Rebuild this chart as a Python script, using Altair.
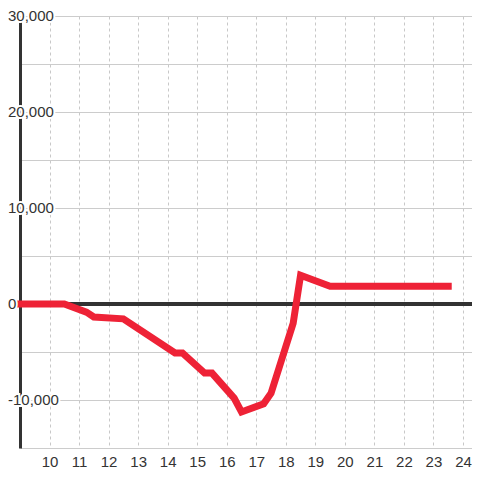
import altair as alt
import pandas as pd

# Data
hours = [9, 10.5, 11.25, 11.5, 12.5, 14.25, 14.5, 15.25, 15.5, 16.25, 16.5,
         17.25, 17.5, 18.25, 18.5, 19.5, 23.5]
values = [0, 0, -850, -1350, -1550, -5100, -5100, -7200, -7200, -9800, -11250,
          -10400, -9300, -2000, 3000, 1850, 1850]

x_ticks = list(range(10, 25))
y_grid = [-15000, -10000, -5000, 0, 5000, 10000, 15000, 20000, 25000, 30000]
y_label_values = [-10000, 0, 10000, 20000, 30000]
y_label_texts = ["-10,000", "0", "10,000", "20,000", "30,000"]

df = pd.DataFrame({"hour": hours, "value": values})
labels = pd.DataFrame({"value": y_label_values, "label": y_label_texts})

FONT = "Liberation Sans"
RED = "#EE2236"
DARK = "#333333"

x_scale = alt.Scale(domain=[9, 24.305], nice=False, zero=False)
y_scale = alt.Scale(domain=[-15000, 30000], nice=False, zero=False)

x_axis = alt.Axis(values=x_ticks, grid=True, gridDash=[3, 3], gridColor="#c8c8c8",
                  domain=False, ticks=False, labelFontSize=15, labelColor=DARK,
                  labelFont=FONT, labelPadding=6, title=None, zindex=0)
y_axis = alt.Axis(values=y_grid, grid=True, gridColor="#cccccc", labels=False,
                  ticks=False, domain=True, domainColor=DARK, domainWidth=3,
                  title=None, zindex=0)

base = alt.Chart(df).encode(
    x=alt.X("hour:Q", scale=x_scale, axis=x_axis),
    y=alt.Y("value:Q", scale=y_scale, axis=y_axis),
)

zero_rule = alt.Chart(df).mark_rule(color=DARK, strokeWidth=3).encode(
    y=alt.datum(0)
)

line = base.mark_line(color=RED, strokeWidth=7, strokeCap="square")

lab = alt.Chart(labels)

halo = lab.mark_text(align="left", baseline="middle", fontSize=15, font=FONT,
                     stroke="white", strokeWidth=4, fill="white").encode(
    x=alt.value(-12), y=alt.Y("value:Q", scale=y_scale), text="label:N")
txt = lab.mark_text(align="left", baseline="middle", fontSize=15, font=FONT,
                    color=DARK).encode(
    x=alt.value(-12), y=alt.Y("value:Q", scale=y_scale), text="label:N")

chart = alt.layer(zero_rule, line, halo, txt).properties(
    width=452, height=432,
    padding={"left": 12, "top": 8, "right": 0, "bottom": 22},
    autosize="none",
    background="white",
).configure_view(stroke=None)

chart.save("out.html", embed_options={"renderer": "svg", "actions": False})
